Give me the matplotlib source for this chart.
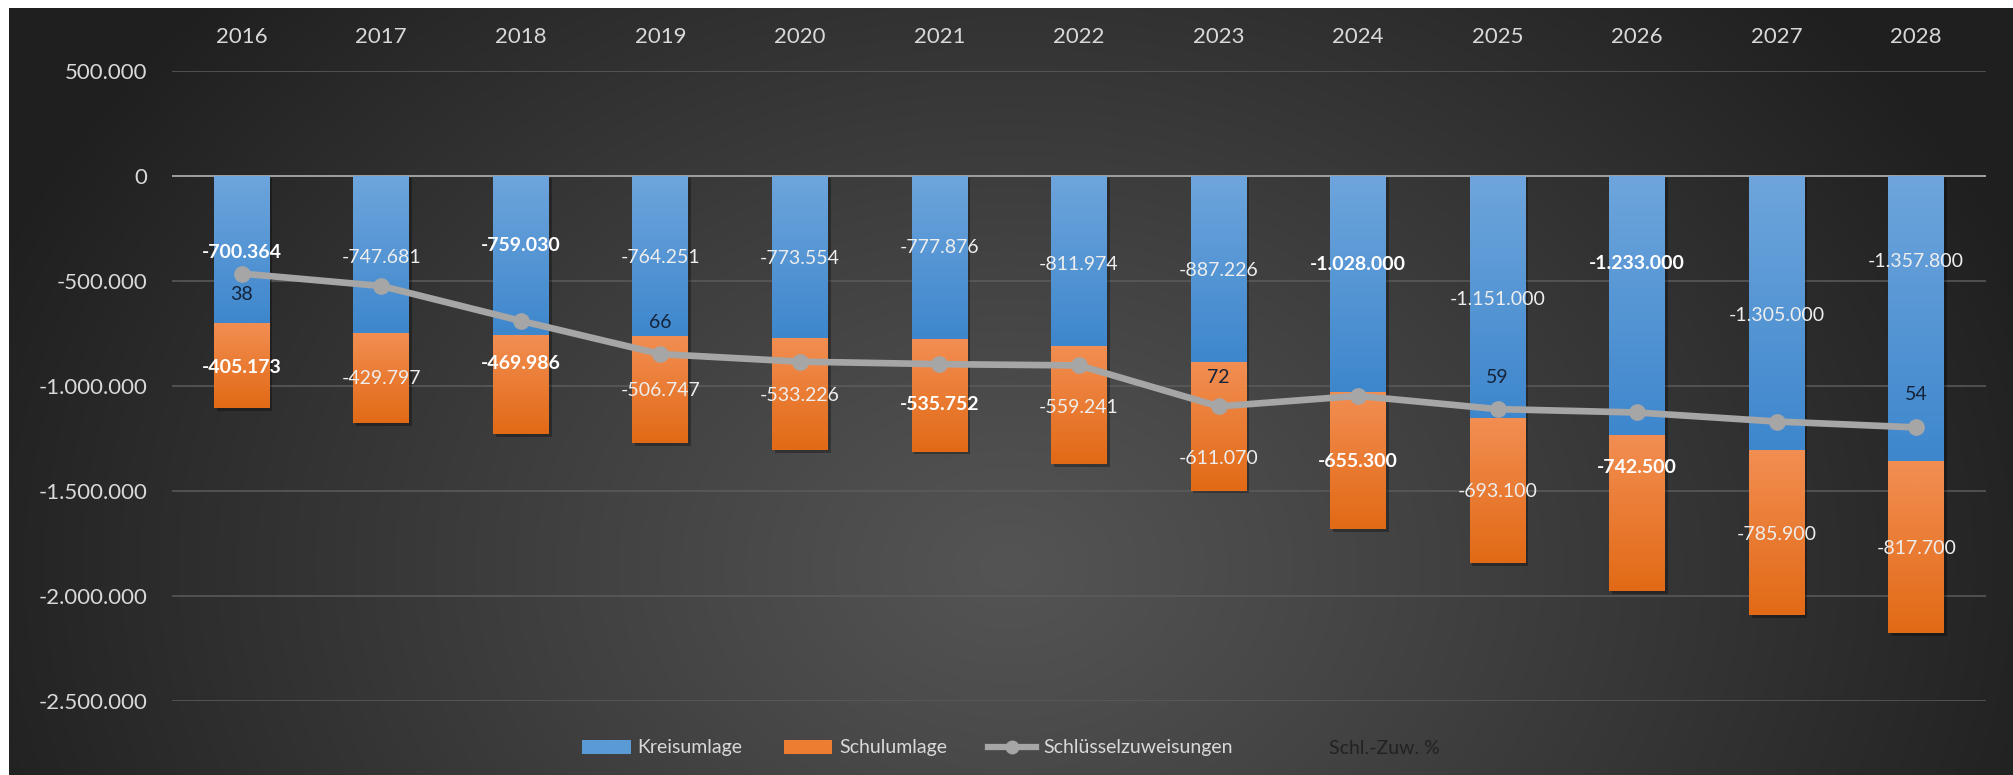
import numpy as np
import matplotlib
matplotlib.use('Agg')
import matplotlib.pyplot as plt
from matplotlib.patches import Patch
from matplotlib.lines import Line2D
import matplotlib.patheffects as pe
from matplotlib.ticker import FuncFormatter, MultipleLocator

plt.rcParams['font.family'] = ['Lato', 'DejaVu Sans']

# ---------------- data ----------------
years = ['2016', '2017', '2018', '2019', '2020', '2021', '2022',
         '2023', '2024', '2025', '2026', '2027', '2028']
kreisumlage = [-700364, -747681, -759030, -764251, -773554, -777876, -811974,
               -887226, -1028000, -1151000, -1233000, -1305000, -1357800]
schulumlage = [-405173, -429797, -469986, -506747, -533226, -535752, -559241,
               -611070, -655300, -693100, -742500, -785900, -817700]
schluesselzuweisungen = [-466000, -525000, -691000, -849000, -885000, -897000, -903000,
                         -1098000, -1048000, -1111000, -1127000, -1170000, -1198000]
schl_zuw_pct = [38, None, None, 66, None, None, None, 72, None, 59, None, None, 54]

# ---------------- label styling ----------------
kreis_label_bold = [1, 0, 1, 0, 0, 0, 0, 0, 1, 0, 1, 0, 0]
schul_label_bold = [1, 0, 1, 0, 0, 1, 0, 0, 1, 0, 1, 0, 0]
kreis_label_frac = [0.52, 0.52, 0.44, 0.51, 0.51, 0.44, 0.52, 0.51, 0.41, 0.51, 0.34, 0.51, 0.30]
schul_label_frac = [0.52, 0.51, 0.29, 0.51, 0.51, 0.58, 0.52, 0.75, 0.51, 0.51, 0.21, 0.51, 0.51]
pct_label_offset = [-15, 0, 0, 23, 0, 0, 0, 21, 0, 23, 0, 0, 24]

W, H = 2013, 775
fig = plt.figure(figsize=(W / 100, H / 100), dpi=100, facecolor='white')

# ---------------- background gradient ----------------
bg = fig.add_axes([9 / W, 0, 1 - 9 / W, 1 - 8 / H])
nx, ny = 400, 160
X = np.linspace(0, W - 9, nx)[None, :]
Y = np.linspace(0, H - 8, ny)[:, None]
cx, cy, rx, ry = 1000, 560, 1100, 850
r = np.sqrt(((X - cx) / rx) ** 2 + ((Y - cy) / ry) ** 2)
r = np.clip(r, 0, 1)
c_center, c_edge = 0x54 / 255, 0x1f / 255
val = c_center + (c_edge - c_center) * r ** 1.1
img = np.dstack([val, val, val])
bg.imshow(img, aspect='auto', extent=[0, 1, 0, 1], origin='upper', interpolation='bilinear')
bg.axis('off')

# ---------------- main axes ----------------
ax = fig.add_axes([172 / W, 1 - 701 / H, (1986 - 172) / W, (701 - 70.6) / H])
ax.set_facecolor('none')
x = np.arange(len(years))
bw = 0.40

ax.set_ylim(-2500000, 500000)
ax.set_xlim(-0.5, len(years) - 0.5)
ax.yaxis.set_major_locator(MultipleLocator(500000))
ax.yaxis.set_major_formatter(FuncFormatter(lambda v, p: f"{int(round(v)):,}".replace(',', '.')))
ax.grid(axis='y', color='#5c5c5c', lw=1.1, zorder=0)
ax.set_axisbelow(True)
ax.axhline(0, color='#a0a0a0', lw=1.4, zorder=1)
for s in ax.spines.values():
    s.set_visible(False)
ax.tick_params(axis='y', length=0, pad=18, labelsize=16, labelcolor='#d9d9d9')
ax.xaxis.tick_top()
ax.set_xticks(x)
ax.set_xticklabels(years)
ax.tick_params(axis='x', length=0, pad=17, labelsize=16, labelcolor='#d9d9d9')


def grad_fill(bars, top_rgb, bot_rgb):
    grad = np.linspace(0, 1, 64)[:, None]
    top = np.array(top_rgb) / 255
    bot = np.array(bot_rgb) / 255
    g = top[None, None, :] * (1 - grad[:, :, None]) + bot[None, None, :] * grad[:, :, None]
    for b in bars:
        x0, y0 = b.get_x(), b.get_y()
        x1, y1 = x0 + b.get_width(), y0 + b.get_height()
        ytop, ybot = max(y0, y1), min(y0, y1)
        b.set_path_effects([pe.SimplePatchShadow(offset=(2, -2), shadow_rgbFace='black', alpha=0.3),
                            pe.Normal()])
        im = ax.imshow(g, extent=[x0, x1, ybot, ytop], aspect='auto', origin='upper',
                       zorder=b.get_zorder() + 0.1, interpolation='bilinear')
        im.set_clip_path(b)


bars_k = ax.bar(x, kreisumlage, width=bw, color='#5b9bd5', zorder=2)
bars_s = ax.bar(x, schulumlage, width=bw, bottom=kreisumlage, color='#ed7d31', zorder=2)
grad_fill(bars_k, (110, 165, 220), (62, 135, 205))
grad_fill(bars_s, (242, 142, 82), (226, 106, 22))

ax.plot(x, schluesselzuweisungen, color='#a6a6a6', lw=4.8, marker='o', ms=11,
        solid_capstyle='round', zorder=5)

# value labels
for i in range(len(years)):
    k = kreisumlage[i]
    s = schulumlage[i]
    ky = k * kreis_label_frac[i]
    sy = k + s * schul_label_frac[i]
    ax.text(i, ky, f"{k:,}".replace(',', '.'), ha='center', va='center', fontsize=14,
            color='white' if kreis_label_bold[i] else '#eeeeee',
            fontweight='bold' if kreis_label_bold[i] else 'normal', zorder=6)
    ax.text(i, sy, f"{s:,}".replace(',', '.'), ha='center', va='center', fontsize=14,
            color='white' if schul_label_bold[i] else '#eeeeee',
            fontweight='bold' if schul_label_bold[i] else 'normal', zorder=6)
    if schl_zuw_pct[i] is not None:
        ax.annotate(str(schl_zuw_pct[i]), xy=(i, schluesselzuweisungen[i]),
                    xytext=(0, pct_label_offset[i]), textcoords='offset points',
                    ha='center', va='center', fontsize=14, color='#15233a', zorder=6)

ax.set_xlim(-0.5, len(years) - 0.5)
ax.set_ylim(-2500000, 500000)

# legend
handles = [Patch(facecolor='#5b9bd5', edgecolor='none'),
           Patch(facecolor='#ed7d31', edgecolor='none'),
           Line2D([0], [0], color='#a6a6a6', lw=4.5, marker='o', ms=9),
           Patch(facecolor='none', edgecolor='none')]
labels = ['Kreisumlage', 'Schulumlage', 'Schlüsselzuweisungen', 'Schl.-Zuw. %']
leg = fig.legend(handles, labels, loc='center', bbox_to_anchor=(1011 / W, 1 - 748 / H),
                 ncol=4, frameon=False, fontsize=14, handlelength=2.5, handletextpad=0.35,
                 columnspacing=2.1)
for t, c in zip(leg.get_texts(), ['#d9d9d9', '#d9d9d9', '#d9d9d9', '#222222']):
    t.set_color(c)

fig.savefig('out.png', dpi=100, facecolor='white')
